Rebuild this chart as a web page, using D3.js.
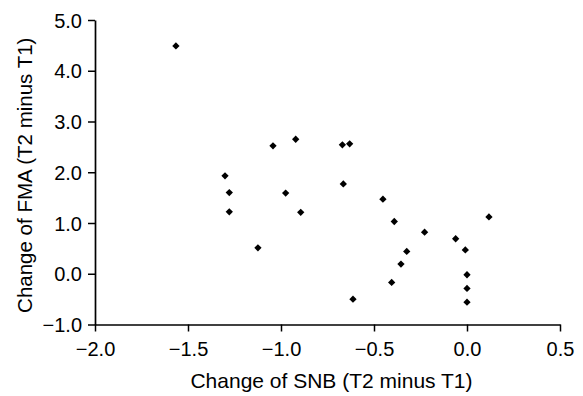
<!DOCTYPE html>
<html>
<head>
<meta charset="utf-8">
<script src="https://cdn.jsdelivr.net/npm/d3@7"></script>
<style>
  body { margin: 0; background: #fff; }
  svg { display: block; font-family: "Liberation Sans", Arial, sans-serif; }
</style>
</head>
<body>
<div id="chart"></div>
<script>
// change of SNB (x) and change of FMA (y)
const snbChange = [-1.565, -1.043, -0.921, -0.670, -0.631, -1.301, -1.278, -1.278, -0.975,
  -0.665, -0.894, -1.124, -0.452, -0.391, -0.405, -0.613, -0.228, -0.324, -0.355,
  -0.061, -0.009, 0.0, 0.0, 0.0, 0.118];
const fmaChange = [4.49, 2.52, 2.65, 2.54, 2.56, 1.93, 1.60, 1.22, 1.59,
  1.77, 1.21, 0.51, 1.47, 1.03, -0.17, -0.50, 0.82, 0.44, 0.19,
  0.69, 0.47, -0.02, -0.29, -0.56, 1.12];
const xTicks = [-2.0, -1.5, -1.0, -0.5, 0.0, 0.5];
const yTicks = [-1.0, 0.0, 1.0, 2.0, 3.0, 4.0, 5.0];
const xTitle = 'Change of SNB (T2 minus T1)';
const yTitle = 'Change of FMA (T2 minus T1)';

const width = 583, height = 396;
const margin = { top: 20, right: 23, bottom: 72, left: 95 };

const svg = d3.select('#chart').append('svg')
  .attr('width', width)
  .attr('height', height);

const x = d3.scaleLinear().domain([-2.0, 0.5]).range([margin.left, width - margin.right]);
const y = d3.scaleLinear().domain([-1.0, 5.0]).range([height - margin.bottom + 0.5, margin.top]);

const fmt = d3.format('.1f');

// x axis
const gx = svg.append('g')
  .attr('transform', `translate(0,${y(-1.0)})`)
  .call(d3.axisBottom(x).tickValues(xTicks).tickFormat(fmt).tickSize(7).tickSizeOuter(0).tickPadding(10));

// y axis
const gy = svg.append('g')
  .attr('transform', `translate(${x(-2.0)},0)`)
  .call(d3.axisLeft(y).tickValues(yTicks).tickFormat(fmt).tickSize(7).tickSizeOuter(0).tickPadding(6));

[gx, gy].forEach(g => {
  g.select('.domain').attr('stroke', '#000').attr('stroke-width', 1.7);
  g.selectAll('.tick line').attr('stroke', '#000').attr('stroke-width', 1.5);
  g.selectAll('.tick text')
    .attr('fill', '#000')
    .style('font-size', '20px')
    .style('font-family', '"Liberation Sans", Arial, sans-serif');
});
gy.selectAll('.tick text').attr('dy', '0.36em');

// points as small diamonds
const diamond = d3.symbol().type(d3.symbolDiamond2).size(34);
svg.append('g')
  .selectAll('path')
  .data(snbChange.map((v, i) => [v, fmaChange[i]]))
  .enter()
  .append('path')
  .attr('transform', d => `translate(${x(d[0])},${y(d[1])})`)
  .attr('d', diamond)
  .attr('fill', '#000');

// axis titles
svg.append('text')
  .attr('x', (x(-2.0) + x(0.5)) / 2 + 4)
  .attr('y', 388)
  .attr('text-anchor', 'middle')
  .style('font-size', '21px')
  .attr('fill', '#000')
  .text(xTitle);

svg.append('text')
  .attr('transform', `translate(32,${(y(-1.0) + y(5.0)) / 2 + 3}) rotate(-90)`)
  .attr('text-anchor', 'middle')
  .style('font-size', '20.5px')
  .attr('fill', '#000')
  .text(yTitle);
</script>
</body>
</html>
